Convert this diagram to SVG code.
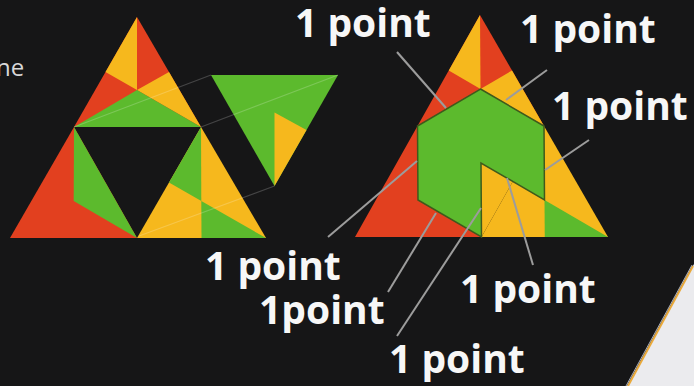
<svg xmlns="http://www.w3.org/2000/svg" width="694" height="386" viewBox="0 0 694 386">
<defs>
<style>
.r{fill:#e2401f}
.y{fill:#f6b81d}
.g{fill:#5cba2d}
.hex{fill:#5cba2d;stroke:#3f5a1c;stroke-width:1.5;stroke-linejoin:miter}
.lbl{font-family:"Open Sans","DejaVu Sans",sans-serif;font-weight:700;font-size:39px;fill:#f7f7f7}
.lead{stroke:#9c9c9c;stroke-width:2;fill:none}
.faint{stroke:#ffffff;stroke-opacity:0.2;stroke-width:1.2;fill:none}
</style>
</defs>
<rect x="0" y="0" width="694" height="386" fill="#161617"/>
<text x="-4" y="76" font-family="'Open Sans','DejaVu Sans',sans-serif" font-size="24" fill="#d8d8d8">ne</text>

<g id="left-triangle">
  <polygon class="r" points="137,17 74,127 201,127"/>
  <polygon class="y" points="137,17 105.5,72 137,90"/>
  <polygon class="y" points="169,72 137,90 201,127"/>
  <polygon class="g" points="74,127 137,90 201,127"/>
  <polygon class="r" points="74,127 10,238 137,238"/>
  <polygon class="g" points="74,127 73.7,201 137,238"/>
  <polygon class="y" points="201,127 137,238 266,238"/>
  <polygon class="g" points="201,127 169,182.5 201.3,201"/>
  <polygon class="g" points="201.3,201 201.5,238 266,238"/>
</g>

<g id="piece">
  <polygon class="g" points="211,75 338,75 274.5,186"/>
  <polygon class="y" points="274.5,112.5 306.5,130 274.5,186"/>
</g>

<g id="right-triangle">
  <polygon class="r" points="480,15 417.5,126 544,126"/>
  <polygon class="y" points="480,15 448.75,70.5 480.5,89"/>
  <polygon class="y" points="512,70.5 480.5,89 544,126"/>
  <polygon class="r" points="417.5,126 355,237 481.5,237"/>
  <polygon class="y" points="417.5,126 544,126 481.5,237"/>
  <polygon class="y" points="544,126 481.5,237 608,237"/>
  <polygon class="g" points="544.5,200 544.75,237 608,237"/>
  <polygon class="hex" points="480.5,89 544,126 544.5,200 481,163 481.5,237 418,200 417.5,126"/>
</g>

<g id="page-corner">
  <polygon points="694,264 627,386 694,386" fill="#ebebee"/>
  <line x1="693" y1="266" x2="628" y2="386" stroke="#e9a93a" stroke-width="2"/>
  <line x1="692" y1="265" x2="626" y2="386" stroke="#cfd6e6" stroke-width="0.8"/>
</g>

<g id="connectors">
  <line class="faint" x1="74" y1="127" x2="211" y2="75"/>
  <line class="faint" x1="201" y1="127" x2="338" y2="75"/>
  <line class="faint" x1="139" y1="236" x2="274.5" y2="186"/>
  <line class="lead" x1="397" y1="52" x2="446" y2="108"/>
  <line class="lead" x1="547" y1="70" x2="506" y2="100"/>
  <line class="lead" x1="589" y1="140" x2="545" y2="170"/>
  <line class="lead" x1="328" y1="237" x2="417" y2="161"/>
  <line class="lead" x1="388" y1="292" x2="436" y2="213"/>
  <line class="lead" x1="397" y1="336" x2="481" y2="208"/>
  <line class="lead" x1="507" y1="178" x2="533" y2="265"/>
</g>

<g id="label-1"><text class="lbl" x="295" y="37">1 point</text></g>
<g id="label-2"><text class="lbl" x="520" y="43">1 point</text></g>
<g id="label-3"><text class="lbl" x="552" y="120">1 point</text></g>
<g id="label-4"><text class="lbl" x="205" y="280">1 point</text></g>
<g id="label-5"><text class="lbl" x="259" y="324">1point</text></g>
<g id="label-6"><text class="lbl" x="389" y="373">1 point</text></g>
<g id="label-7"><text class="lbl" x="460" y="303">1 point</text></g>
</svg>
